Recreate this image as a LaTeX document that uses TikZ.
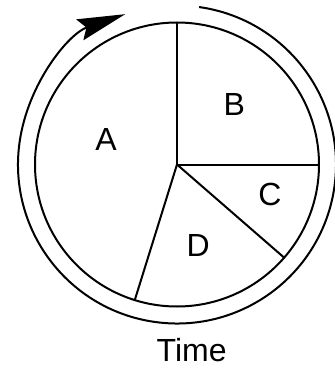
\documentclass[tikz,border=0pt]{standalone}
\usepackage{fontspec}
\setmainfont{Liberation Sans}
\usetikzlibrary{arrows.meta}
\begin{document}
\begin{tikzpicture}[x=1pt,y=1pt,
  pieline/.style={line width=2pt, line cap=round},
  lbl/.style={font=\fontsize{32}{38}\selectfont, anchor=base, inner sep=0pt}]
\useasboundingbox (0,0) rectangle (335,368);
\coordinate (O) at (177,203.5);
\draw[pieline] (O) circle[radius=142];
\path (O) ++(90:142) coordinate (P1);
\path (O) ++(0:142) coordinate (P2);
\path (O) ++(-41:142) coordinate (P3);
\path (O) ++(-107.3:142) coordinate (P4);
\draw[pieline] (O) -- (P1);
\draw[pieline] (O) -- (P2);
\draw[pieline] (O) -- (P3);
\draw[pieline] (O) -- (P4);
\path (O) ++(82:159) coordinate (S);
\draw[line width=2pt, -{Stealth[length=48pt,width=22pt,inset=7pt]}] (S) arc[start angle=82, end angle=-251, radius=159];
\node[lbl] (A) at (106,218) {A};
\node[lbl] (B) at (234.3,252.7) {B};
\node[lbl] (C) at (270,163) {C};
\node[lbl] (D) at (198.3,112) {D};
\node[lbl] (T) at (191.7,6) {Time};
\end{tikzpicture}
\end{document}
